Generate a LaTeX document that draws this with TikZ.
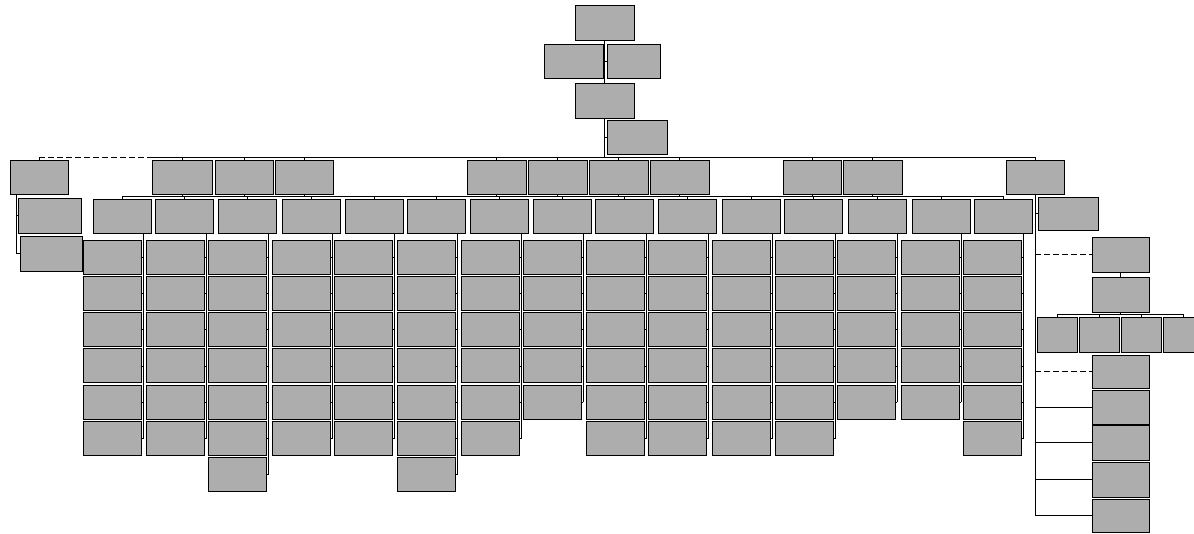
\documentclass[tikz,border=0pt]{standalone}
\usetikzlibrary{backgrounds}
\begin{document}
\begin{tikzpicture}[x=1pt,y=-1pt,
  box/.style={draw=black, line width=0.8pt, fill=black!32, anchor=north west, inner sep=0pt, outer sep=0pt},
  conn/.style={draw=black, line width=0.7pt},
  dconn/.style={conn, dash pattern=on 6pt off 3pt}]
\useasboundingbox (0,0) rectangle (1194,534);
\newcommand\orgbox[5]{\node[box, minimum width=#4pt, minimum height=#5pt] (#1) at (#2,#3) {};}
% ---- top chain
\orgbox{A}{575}{5}{59}{35}
\orgbox{B}{544}{44}{59}{34}
\orgbox{C}{607}{44}{53}{34}
\orgbox{D}{575}{83}{59}{35}
\orgbox{E}{607}{120}{60}{34}
\coordinate (trunk) at (604.5,157);
% ---- level 1
\orgbox{l1a}{10}{160}{58}{34}
\orgbox{l1b}{152}{160}{60}{34}
\orgbox{l1c}{215}{160}{58}{34}
\orgbox{l1d}{275}{160}{58}{34}
\orgbox{l1e}{467}{160}{59}{34}
\orgbox{l1f}{528}{160}{59}{34}
\orgbox{l1g}{589}{160}{59}{34}
\orgbox{l1h}{650}{160}{59}{34}
\orgbox{l1i}{783}{160}{58}{34}
\orgbox{l1j}{843}{160}{59}{34}
\orgbox{l1k}{1006}{160}{58}{34}
% ---- left branch under l1a
\orgbox{la1}{18}{198}{63}{35}
\orgbox{la2}{20}{236}{62}{35}
% ---- situation box
\orgbox{sit}{1038}{197}{60}{33}
% ---- columns
\foreach \i/\cx/\lx/\n in {1/83/93/6, 2/146/155/6, 3/208/218/7, 4/272/282/6, 5/334/345/6,
  6/397/407/7, 7/461/470/6, 8/523/533/5, 9/586/595/6, 10/648/658/6, 11/712/722/6,
  12/775/784/6, 13/837/848/5, 14/901/912/5, 15/963/974/6} {
  \orgbox{L2-\i}{\lx}{199}{58}{34}
  \coordinate (v-\i) at (\cx+60,0);
  \foreach \r in {1,...,\n} {
    \pgfmathsetmacro\ry{240+36.3*(\r-1)}
    \orgbox{c-\i-\r}{\cx}{\ry}{58}{34}
    \begin{scope}[on background layer]
      \draw[conn] (c-\i-\r.east) -- (c-\i-\r.east -| v-\i);
    \end{scope}
  }
  \begin{scope}[on background layer]
    \draw[conn] (L2-\i.south -| v-\i) -- (c-\i-\n.east -| v-\i);
    \draw[conn] (L2-\i.north) -- ++(0,-2.5);
  \end{scope}
}
% ---- right side
\orgbox{R1}{1092}{237}{57}{35}
\orgbox{R2}{1092}{277}{57}{35}
\orgbox{S1}{1037}{317}{40}{35}
\orgbox{S2}{1079}{317}{40}{35}
\orgbox{S3}{1121}{317}{40}{35}
\orgbox{S4}{1163}{317}{40}{35}
\orgbox{R3}{1092}{355}{57}{33}
\orgbox{R4}{1092}{390}{57}{34}
\orgbox{R5}{1092}{425}{57}{35}
\orgbox{R6}{1092}{462}{57}{35}
\orgbox{R7}{1092}{499}{57}{33}
\coordinate (rv) at (1035,516);
\begin{scope}[on background layer]
  % top trunk
  \draw[conn] (A.south) -- (D.north);
  \draw[conn] (D.south) -- (trunk);
  \draw[conn] (B.east) -- (B.east -| trunk);
  \draw[conn] (C.west) -- (C.west -| trunk);
  \draw[conn] (E.west) -- (E.west -| trunk);
  % main bus
  \draw[dconn] (l1a.north |- trunk) -- (152,157);
  \draw[conn] (152,157) -- (l1k.north |- trunk);
  \foreach \b in {l1a,l1b,l1c,l1d,l1e,l1f,l1g,l1h,l1i,l1j,l1k}
    \draw[conn] (\b.north) -- (\b.north |- trunk);
  % second bus
  \coordinate (bus2) at (0,196.5);
  \draw[conn] (L2-1.north |- bus2) -- (L2-15.north |- bus2);
  \foreach \b in {l1b,l1c,l1d,l1e,l1f,l1g,l1h,l1i,l1j}
    \draw[conn] (\b.south) -- (\b.south |- bus2);
  % left branch
  \draw[conn] (l1a.south west) ++(6,0) coordinate (lv) -- (la2.west -| lv) -- (la2.west);
  \draw[conn] (la1.west -| lv) -- (la1.west);
  % right vertical
  \draw[conn] (l1k.south) -- (l1k.south |- rv);
  \draw[conn] (sit.west) -- (sit.west -| rv);
  \draw[dconn] (R1.west -| rv) -- (R1.west);
  \draw[conn] (R1.south) -- (R2.north);
  \draw[conn] (R2.south) -- ++(0,2) coordinate (sb);
  \draw[conn] (S1.north |- sb) -- (S4.north |- sb);
  \foreach \s in {S1,S2,S3,S4} \draw[conn] (\s.north) -- (\s.north |- sb);
  \draw[dconn] (R3.west -| rv) -- (R3.west);
  \draw[conn] (R4.west -| rv) -- (R4.west);
  \draw[conn] (R5.west -| rv) -- (R5.west);
  \draw[conn] (R6.west -| rv) -- (R6.west);
  \draw[conn] (R7.west -| rv) -- (R7.west);
\end{scope}
\end{tikzpicture}
\end{document}
